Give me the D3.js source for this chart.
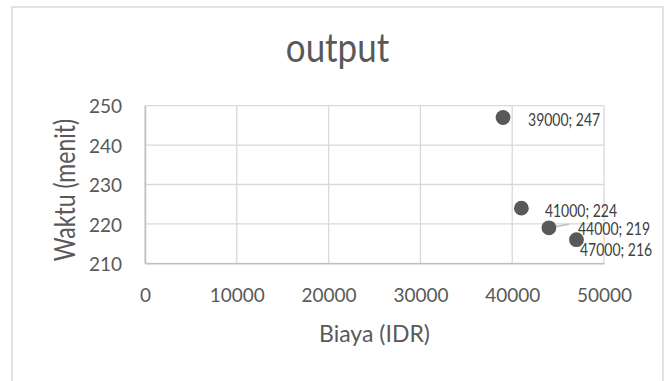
<!DOCTYPE html>
<html><head><meta charset="utf-8">
<script src="https://cdn.jsdelivr.net/npm/d3@7"></script>
<style>
html,body{margin:0;padding:0;background:#fff;}
svg{display:block;font-family:Lato,"Open Sans",sans-serif;}
</style></head>
<body>
<script>
// ---- data ----
const biaya = [39000, 41000, 44000, 47000];
const waktu = [247, 224, 219, 216];
const xTicks = [0, 10000, 20000, 30000, 40000, 50000];
const yTicks = [210, 220, 230, 240, 250];
const chartTitle = "output";
const xTitle = "Biaya (IDR)";
const yTitle = "Waktu (menit)";

// ---- layout (label offsets in px from the point) ----
const labelOffsets = [[25, 8.5], [23.5, 8.6], [29, 7.2], [3.5, 16]];

const W = 668, H = 381;
const svg = d3.select("body").append("svg").attr("width", W).attr("height", H);

// chart border
svg.append("rect").attr("x", 12).attr("y", 7).attr("width", 651).attr("height", 400)
  .attr("fill", "#fff").attr("stroke", "#d9d9d9").attr("stroke-width", 1.5);

const plot = {left: 145, right: 604, top: 105.7, bottom: 263.3};
const x = d3.scaleLinear().domain([0, 50000]).range([plot.left, plot.right]);
const y = d3.scaleLinear().domain([210, 250]).range([plot.bottom, plot.top]);

// gridlines
const g = svg.append("g");
g.selectAll("line.vx").data(xTicks).join("line")
  .attr("x1", d => x(d)).attr("x2", d => x(d)).attr("y1", plot.top).attr("y2", plot.bottom)
  .attr("stroke", "#d9d9d9").attr("stroke-width", 1.3);
g.selectAll("line.hy").data(yTicks).join("line")
  .attr("x1", plot.left).attr("x2", plot.right).attr("y1", d => y(d)).attr("y2", d => y(d))
  .attr("stroke", "#d9d9d9").attr("stroke-width", 1.3);

// axes
const xAxis = d3.axisBottom(x).tickValues(xTicks).tickSize(0).tickPadding(0).tickFormat(d3.format("d"));
const yAxis = d3.axisLeft(y).tickValues(yTicks).tickSize(0).tickPadding(0).tickFormat(d3.format("d"));
const gx = svg.append("g").attr("transform", `translate(0,${plot.bottom})`).call(xAxis);
const gy = svg.append("g").attr("transform", `translate(${plot.left},0)`).call(yAxis);
[gx, gy].forEach(a => {
  a.select(".domain").attr("stroke", "#bfbfbf").attr("stroke-width", 1.5);
  a.selectAll("text").attr("fill", "#595959").style("font-size", "19px").style("font-family", "Lato");
});
gx.selectAll("text").attr("dy", null).attr("y", 0)
  .attr("transform", "translate(0,38.5) scale(1,1.06)");
gy.selectAll("text").attr("dy", null).attr("x", 0).attr("y", 0)
  .attr("transform", "translate(-23,7.2) scale(1,1.06)");

// titles
svg.append("text").attr("transform", "translate(337.5,62) scale(0.97,1.15)").attr("text-anchor", "middle")
  .attr("fill", "#595959").style("font-size", "36px").text(chartTitle);
svg.append("text").attr("x", 374.5).attr("y", 342).attr("text-anchor", "middle")
  .attr("fill", "#595959").style("font-size", "23px").text(xTitle);
svg.append("text").attr("transform", "translate(75,190) rotate(-90) scale(1,1.28)").attr("text-anchor", "middle")
  .attr("fill", "#595959").style("font-size", "23px").text(yTitle);

// points
const pts = biaya.map((b, i) => ({b, w: waktu[i], off: labelOffsets[i]}));

// leader line for the 3rd label
svg.selectAll("line.leader").data(pts.filter((d, i) => i === 2)).join("line")
  .attr("x1", d => x(d.b)).attr("y1", d => y(d.w))
  .attr("x2", d => x(d.b) + d.off[0] - 9).attr("y2", d => y(d.w) - 3.5)
  .attr("stroke", "#bfbfbf").attr("stroke-width", 1.5);

svg.selectAll("circle.pt").data(pts).join("circle")
  .attr("cx", d => x(d.b)).attr("cy", d => y(d.w)).attr("r", 7.4)
  .attr("fill", "#595959");

svg.selectAll("text.lbl").data(pts).join("text")
  .attr("transform", d => `translate(${x(d.b) + d.off[0]},${y(d.w) + d.off[1]}) scale(1,1.2)`)
  .attr("fill", "#404040").style("font-size", "14px")
  .text(d => `${d.b}; ${d.w}`);
</script>
</body></html>
